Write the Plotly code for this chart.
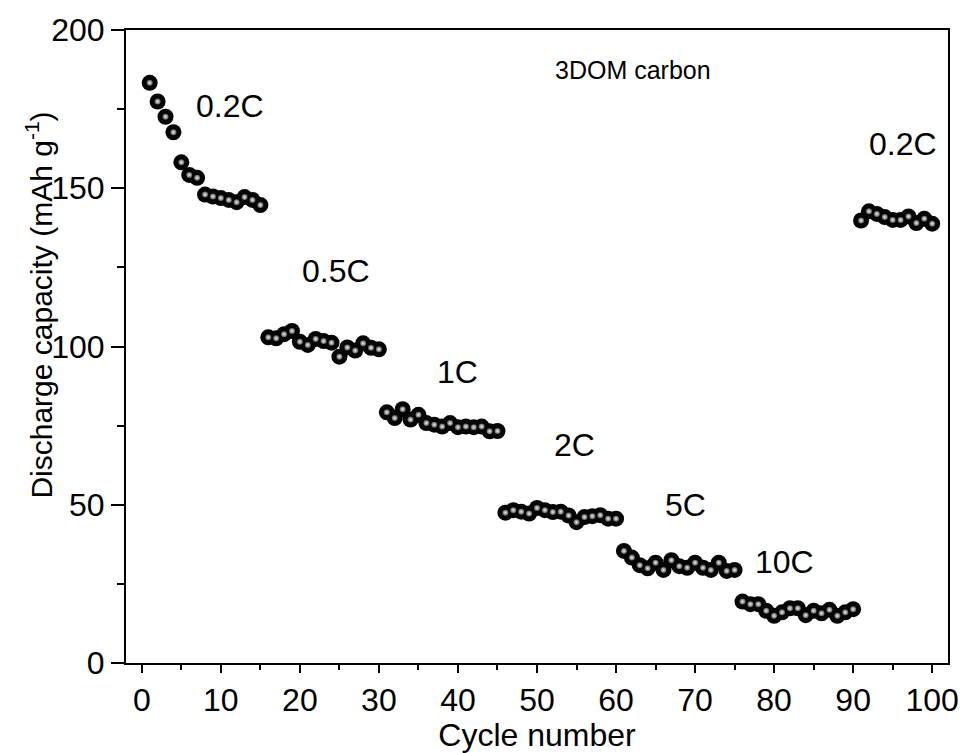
import plotly.graph_objects as go

cycles = list(range(1, 101))
capacity_02C = [183.3, 177.4, 172.6, 167.7, 158.2, 154.2, 153.3, 148.0, 147.4, 146.9, 146.3, 145.6, 147.2, 146.3, 144.7]
capacity_05C = [102.9, 102.6, 103.9, 104.9, 101.5, 100.5, 102.4, 101.7, 101.2, 96.8, 99.7, 98.7, 101.0, 99.6, 99.1]
capacity_1C = [79.2, 77.4, 80.2, 76.9, 78.4, 75.8, 75.3, 74.7, 75.8, 74.5, 74.7, 74.5, 74.7, 73.2, 73.3]
capacity_2C = [47.5, 48.3, 47.8, 47.2, 49.0, 48.3, 47.7, 47.8, 46.6, 44.5, 46.1, 46.4, 46.7, 45.6, 45.6]
capacity_5C = [35.4, 33.3, 30.9, 29.9, 31.7, 29.4, 32.5, 30.6, 30.1, 31.7, 30.1, 29.4, 31.7, 29.1, 29.4]
capacity_10C = [19.4, 18.6, 18.6, 16.5, 14.9, 16.0, 17.3, 17.3, 15.1, 16.5, 15.7, 16.8, 14.9, 16.0, 17.0]
capacity_02C_back = [139.8, 142.7, 141.9, 140.9, 140.0, 140.0, 141.1, 139.0, 140.4, 138.8]

capacity = (capacity_02C + capacity_05C + capacity_1C + capacity_2C
            + capacity_5C + capacity_10C + capacity_02C_back)

rate_labels = ["0.2C", "0.5C", "1C", "2C", "5C", "10C", "0.2C"]
label_x = [11.2, 24.6, 40.0, 54.8, 68.8, 81.3, 96.3]
label_y = [176, 124, 92, 69, 50, 32, 164]

x_ticks = [0, 10, 20, 30, 40, 50, 60, 70, 80, 90, 100]
y_ticks = [0, 50, 100, 150, 200]

FONT = "Liberation Sans, Arial, sans-serif"

fig = go.Figure()
fig.add_trace(go.Scatter(
    x=cycles, y=capacity, mode="markers",
    marker=dict(size=16, color="#050505", line=dict(width=0)),
    showlegend=False, hoverinfo="skip"))
fig.add_trace(go.Scatter(
    x=cycles, y=capacity, mode="markers",
    marker=dict(size=6, color="#5a5a5a", line=dict(width=0),
                gradient=dict(type="radial", color="#f0f0f0")),
    showlegend=False, hoverinfo="skip"))

for t, xx, yy in zip(rate_labels, label_x, label_y):
    fig.add_annotation(x=xx, y=yy, text=t, showarrow=False,
                       font=dict(family=FONT, size=32, color="black"))
fig.add_annotation(x=62.2, y=187.5, text="3DOM carbon", showarrow=False,
                   font=dict(family=FONT, size=25, color="black"))
fig.add_annotation(xref="paper", yref="paper", x=-0.106, y=0.566,
                   xanchor="center", yanchor="middle", textangle=-90,
                   text="Discharge capacity (mAh g<sup>-1</sup>)", showarrow=False,
                   font=dict(family=FONT, size=30, color="black"))

fig.update_layout(
    width=971, height=753,
    margin=dict(l=126, r=17, t=29, b=88),
    plot_bgcolor="white", paper_bgcolor="white",
    font=dict(family=FONT, size=30, color="black"),
)
fig.update_xaxes(
    range=[-2, 102], tickvals=x_ticks, ticktext=[str(v) for v in x_ticks],
    ticks="outside", ticklen=8, tickwidth=2, tickcolor="black",
    minor=dict(dtick=5, tick0=0, ticks="outside", ticklen=5, tickwidth=2, tickcolor="black"),
    showline=True, linewidth=2, linecolor="black", mirror=True,
    showgrid=False, zeroline=False,
    tickfont=dict(family=FONT, size=32),
    title=dict(text="Cycle number", font=dict(family=FONT, size=32), standoff=0),
)
fig.update_yaxes(
    range=[0, 200], tickvals=y_ticks, ticktext=[str(v) for v in y_ticks],
    ticks="outside", ticklen=13, tickwidth=2, tickcolor="black",
    minor=dict(dtick=25, tick0=0, ticks="outside", ticklen=7, tickwidth=2, tickcolor="black"),
    showline=True, linewidth=2, linecolor="black", mirror=True,
    showgrid=False, zeroline=False,
    tickfont=dict(family=FONT, size=32),
)

fig.write_html("out.html", config={"displayModeBar": False},
               post_script="document.body.style.margin='0';")
